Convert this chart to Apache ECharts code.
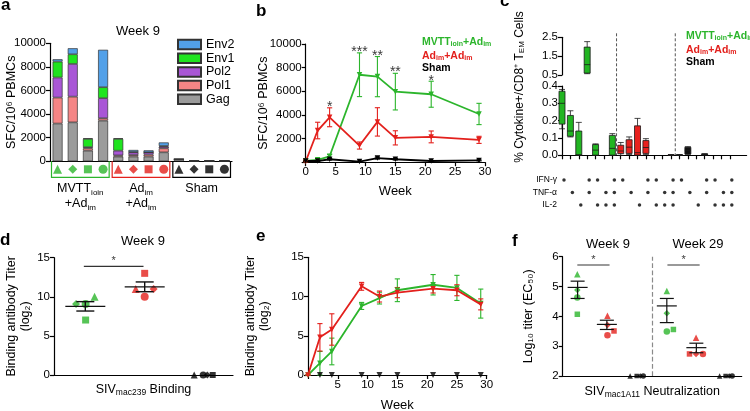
<!DOCTYPE html>
<html><head><meta charset="utf-8">
<script src="https://cdn.jsdelivr.net/npm/echarts@6/dist/echarts.min.js"></script>
<style>html,body{margin:0;padding:0;background:#fff}#c{width:750px;height:411px}</style>
</head><body><div id="c"></div><script>
// ---------------- DATA ----------------
// Panel a (Week 9 stacked SFC per animal)
const aCategories = ['M-tri','M-dia','M-sq','M-cir','A-tri','A-dia','A-sq','A-cir','S-tri','S-dia','S-sq','S-cir'];
const aGag  = [3200, 3300, 900, 3450, 400, 400, 400, 760, 170, 30, 20, 40];
const aPol1 = [2200, 2180, 200,  200, 100, 130, 170, 340,   0,  0,  0,  0];
const aPol2 = [1700, 2770, 100, 1700, 400, 230, 190, 140,   0,  0,  0,  0];
const aEnv1 = [1350,  820, 700,  930,1000,  30,   0,  60,   0,  0,  0,  0];
const aEnv2 = [ 200,  510,  50, 3170,  50, 170, 170, 300,   0,  0,  0,  0];
const aShapes = ['triangle','diamond','rect','circle','triangle','diamond','rect','circle','triangle','diamond','rect','circle'];
const aShapeGroup = [0,0,0,0,1,1,1,1,2,2,2,2];
const aGroupRanges = [[0,3],[4,7],[8,11]];

// Panel b (SFC over weeks)
const bWeeks = [0, 2, 4, 9, 12, 15, 21, 29];
const bMVTT    = [100, 200, 500, 7400, 7240, 5970, 5750, 4080];
const bMVTTsem = [ 50, 100, 150, 1850, 1700, 1550, 1100,  900];
const bAd      = [ 60, 2680, 3800, 1410, 3410, 2060, 2140, 1890];
const bAdSem   = [ 30,  700,  800,  300, 1200,  600,  500,  300];
const bSham    = [100, 100, 250,  50, 350, 250, 100, 150];
const bShamSem = [ 20,  40,  60,  30,  80,  60,  40,  40];
const bStarWeeks = [4, 9, 12, 15, 21];
const bStarY     = [4700, 9300, 9000, 7600, 6900];
const bStarText  = ['*', '***', '**', '**', '*'];

// Panel c (cytokine combos, box plots)
const cCats = ['1','2','3','4','5','6','7','8','9','10','11','12','13','14','15','16','17','18','19','20','21','',''];
// [column, min, Q1, median, Q3, max]
const cLowerBoxes = [
  [0, 0.153, 0.18, 0.30, 0.37, 0.38],
  [1, 0.106, 0.11, 0.14, 0.23, 0.257],
  [2, 0, 0, 0.003, 0.14, 0.19],
  [4, 0, 0, 0.03, 0.062, 0.066],
  [6, 0, 0, 0.04, 0.115, 0.125],
  [7, 0, 0.01, 0.025, 0.058, 0.074],
  [8, 0.005, 0.011, 0.047, 0.09, 0.106],
  [9, 0, 0, 0.015, 0.17, 0.213],
  [10, 0.005, 0.011, 0.045, 0.085, 0.096],
  [13, 0, 0, 0.002, 0.003, 0.004],
  [14, 0, 0, 0.002, 0.003, 0.004],
  [15, 0.005, 0.008, 0.029, 0.046, 0.05],
  [17, 0, 0.003, 0.006, 0.008, 0.009]
];
const cUpperBoxes = [
  [3, 0.57, 0.6, 1.05, 1.98, 2.27]
];
const cRows = ['IL-2', 'TNF-α', 'IFN-γ'];
const cIFN = [1,0,0,1,1,0,1, 1,0,0,1,1,0,1, 1,0,0,1,1,0,1];
const cTNF = [0,1,0,1,0,1,1, 0,1,0,1,0,1,1, 0,1,0,1,0,1,1];
const cIL2 = [0,0,1,0,1,1,1, 0,0,1,0,1,1,1, 0,0,1,0,1,1,1];
const cDividers = [6.5, 13.5];

// Panel d (binding titer week 9)
const dShapes = ['triangle','diamond','rect','circle'];
const dGreenX = [0.68, 0.37, 0.53, 0.53], dGreenY = [10.0, 9.08, 7.03, 9.08];
const dRedX   = [1.37, 1.67, 1.52, 1.52], dRedY   = [11.0, 11.0, 13.0, 10.0];
const dShamX  = [2.35, 2.57, 2.66, 2.50], dShamY  = [0, 0, 0, 0];
const dMeanX = [0.525, 1.52], dMean = [8.77, 11.27], dSemLo = [8.18, 10.65], dSemHi = [9.38, 11.9];
const dSigX = [0.5, 1.5], dSigY = 13.9, dStarY = 14.6;

// Panel e (binding titer over weeks)
const eWeeks = [0, 2, 4, 9, 12, 15, 21, 25, 29];
const eMVTT    = [0, 1.5, 3.0, 8.8, 9.8, 10.8, 11.5, 11.1, 9.1];
const eMVTTsem = [0, 1.5, 1.7, 0.45, 0.75, 1.45, 1.3, 1.6, 1.85];
const eAd      = [0, 4.8, 5.8, 11.3, 10.0, 10.5, 11.0, 10.8, 9.0];
const eAdSem   = [0, 1.75, 2.0, 0.5, 0.7, 0.65, 0.55, 0.7, 0.7];
const eShamWeeks = [2, 4, 9, 12, 15, 21, 25, 29];
const eSham      = [0, 0, 0, 0, 0, 0, 0, 0];

// Panel f (neutralization)
const fShapes = ['triangle','diamond','circle','rect'];
const fGreenX = [0.49, 0.49, 0.49, 0.49, 3.49, 3.49, 3.49, 3.71];
const fGreenY = [5.41, 4.88, 4.63, 4.07, 4.85, 4.10, 3.49, 3.56];
const fRedX   = [1.50, 1.50, 1.50, 1.72, 4.47, 4.47, 4.70, 4.25];
const fRedY   = [4.02, 3.71, 3.37, 3.51, 3.28, 2.74, 2.74, 2.74];
const fShamX  = [2.26, 2.60, 2.70, 2.48, 5.26, 5.58, 5.68, 5.46];
const fShamY  = [2, 2, 2, 2, 2, 2, 2, 2];
const fMeanX = [0.50, 1.48, 3.49, 4.48];
const fMean  = [4.97, 3.73, 4.35, 2.95];
const fSemLo = [4.60, 3.56, 3.79, 2.78];
const fSemHi = [5.18, 3.87, 4.60, 3.10];
const fSigX = [[0.49, 1.57], [3.51, 4.59]], fSigY = 5.72, fStarY = 5.88;
const fDivider = 3;

// ---------------- STYLE ----------------
const F = '"Liberation Sans", Arial, Helvetica, sans-serif';
const GREEN = '#2cb52c', RED = '#e3201c', BLACK = '#000000';
const groupColors = [GREEN, RED, BLACK];
const aColors = {Gag:'#9b9b9b', Pol1:'#f58585', Pol2:'#a956d6', Env1:'#1fe41f', Env2:'#52a0e8'};
const aValues = {Gag:aGag, Pol1:aPol1, Pol2:aPol2, Env1:aEnv1, Env2:aEnv2};

function merge(a, b) {
  const out = Array.isArray(a) ? a.slice() : Object.assign({}, a);
  for (const k in b) {
    if (b[k] && typeof b[k] === 'object' && !Array.isArray(b[k]) && typeof b[k] !== 'function' && a && a[k] && typeof a[k] === 'object') out[k] = merge(a[k], b[k]);
    else out[k] = b[k];
  }
  return out;
}
const baseAxis = {
  nameMoveOverlap: false,
  axisLine: {show: true, lineStyle: {color: '#000', width: 1.2}},
  axisTick: {show: true, inside: false, length: 4, lineStyle: {color: '#000', width: 1.2}},
  axisLabel: {show: true, color: '#000', fontSize: 11.5, fontFamily: F, margin: 4},
  splitLine: {show: false},
  nameTextStyle: {color: '#000', fontFamily: F, fontSize: 12.5}
};
const ax = o => merge(baseAxis, o);

const grids = [
  {left: 50, top: 43.3, width: 182, height: 118},          // 0 a bars
  {left: 50, top: 161.3, width: 182, height: 16},          // 1 a markers
  {left: 305.7, top: 44, width: 179.3, height: 118.2},     // 2 b
  {left: 562, top: 37.3, width: 184.6, height: 37.7},      // 3 c upper
  {left: 562, top: 86, width: 184.6, height: 69.3},        // 4 c lower
  {left: 564, top: 173.75, width: 184.6, height: 37.5},    // 5 c dots
  {left: 54, top: 257.7, width: 179, height: 117.3},       // 6 d
  {left: 308, top: 257.3, width: 178.7, height: 117.7},    // 7 e
  {left: 562.7, top: 256.7, width: 179, height: 119.3}     // 8 f
].map(g => Object.assign({outerBoundsMode: 'none', containLabel: false, show: false}, g));

const subName = {n: {fontSize: 12.5, fontFamily: F, color: '#000', lineHeight: 14}, s: {fontSize: 8.5, fontFamily: F, color: '#000', lineHeight: 6, verticalAlign: 'bottom'}};
const xAxis = [
  ax({gridIndex: 0, type: 'category', data: aCategories, axisTick: {show: false}, axisLabel: {show: false}}),
  {gridIndex: 1, type: 'category', data: aCategories, show: false},
  ax({gridIndex: 1, type: 'category', data: ['MVTT', 'Ad', 'Sham'], position: 'bottom', axisLine: {show: false}, axisTick: {show: false},
      axisLabel: {margin: 4, interval: 0, hideOverlap: false, lineHeight: 15,
        formatter: v => v === 'MVTT' ? '{n|MVTT}{s|ioin}\n{n|+Ad}{s|im}' : v === 'Ad' ? '{n|Ad}{s|im}\n{n|+Ad}{s|im}' : '{n|Sham}',
        rich: {n: {fontSize: 12.5, fontFamily: F, color: '#000', lineHeight: 15}, s: {fontSize: 8, fontFamily: F, color: '#000', lineHeight: 6, verticalAlign: 'bottom'}}}}),
  ax({gridIndex: 2, type: 'value', min: 0, max: 30, interval: 5, name: 'Week', nameLocation: 'middle', nameGap: 23, nameTextStyle: {fontSize: 13}}),
  {gridIndex: 3, type: 'category', data: cCats, boundaryGap: false, show: false},
  ax({gridIndex: 4, type: 'category', data: cCats, boundaryGap: false, axisLabel: {show: false}, axisTick: {interval: (i) => i < 21}}),
  {gridIndex: 5, type: 'category', data: cCats, boundaryGap: false, show: false},
  ax({gridIndex: 6, type: 'value', min: 0, max: 3, axisTick: {show: false}, axisLabel: {show: false},
      name: '{n|SIV}{s|mac239}{n| Binding}', nameLocation: 'middle', nameGap: 8, nameTextStyle: {rich: subName}}),
  ax({gridIndex: 7, type: 'value', min: 0, max: 30, interval: 5, axisLabel: {formatter: v => v === 0 ? '' : String(v)},
      name: 'Week', nameLocation: 'middle', nameGap: 24, nameTextStyle: {fontSize: 13}}),
  ax({gridIndex: 8, type: 'value', min: 0, max: 6, axisTick: {show: false}, axisLabel: {show: false},
      name: '{n|SIV}{s|mac1A11}{n| Neutralization}', nameLocation: 'middle', nameGap: 9, nameTextStyle: {rich: subName}}),
  {gridIndex: 4, type: 'value', min: 0, max: 22, show: false}
];

const yAxis = [
  ax({gridIndex: 0, type: 'value', min: 0, max: 10000, interval: 2000, axisLabel: {formatter: v => String(v)},
      name: 'SFC/10⁶ PBMCs', nameLocation: 'middle', nameGap: 32}),
  {gridIndex: 1, type: 'value', min: -1, max: 1, show: false},
  ax({gridIndex: 2, type: 'value', min: 0, max: 10000, interval: 2000, axisLabel: {formatter: v => v === 0 ? '' : String(v)},
      name: 'SFC/10⁶ PBMCs', nameLocation: 'middle', nameGap: 36}),
  ax({gridIndex: 3, type: 'value', min: 0.5, max: 2.5, interval: 1, axisLabel: {formatter: v => v.toFixed(1)}}),
  ax({gridIndex: 4, type: 'value', min: 0, max: 0.4, interval: 0.1, axisLabel: {formatter: v => v.toFixed(1)}}),
  ax({gridIndex: 5, type: 'category', data: cRows, axisLine: {show: false}, axisTick: {show: false}, axisLabel: {fontSize: 8.5, margin: 7}}),
  ax({gridIndex: 6, type: 'value', min: 0, max: 15, interval: 5, name: 'Binding antibody Titer\n(log₂)', nameLocation: 'middle', nameGap: 21,
      nameTextStyle: {lineHeight: 14}}),
  ax({gridIndex: 7, type: 'value', min: 0, max: 15, interval: 5, name: 'Binding antibody Titer\n(log₂)', nameLocation: 'middle', nameGap: 36,
      nameTextStyle: {lineHeight: 14}}),
  ax({gridIndex: 8, type: 'value', min: 2, max: 6, interval: 1, name: 'Log₁₀ titer (EC₅₀)', nameLocation: 'middle', nameGap: 28})
];

// ---------- render helpers ----------
function errBarRender(cap) {
  return function (params, api) {
    const x = api.value(0), lo = api.value(1), hi = api.value(2);
    const p1 = api.coord([x, lo]), p2 = api.coord([x, hi]);
    const st = {stroke: api.visual('color'), lineWidth: 1.1};
    return {type: 'group', children: [
      {type: 'line', shape: {x1: p1[0], y1: p1[1], x2: p2[0], y2: p2[1]}, style: st},
      {type: 'line', shape: {x1: p1[0] - cap, y1: p1[1], x2: p1[0] + cap, y2: p1[1]}, style: st},
      {type: 'line', shape: {x1: p2[0] - cap, y1: p2[1], x2: p2[0] + cap, y2: p2[1]}, style: st}
    ]};
  };
}
function meanSemRender(halfW, capW, lw) {
  return function (params, api) {
    const x = api.value(0), m = api.value(1), lo = api.value(2), hi = api.value(3);
    const pm = api.coord([x, m]), pl = api.coord([x, lo]), ph = api.coord([x, hi]);
    const st = {stroke: '#111', lineWidth: lw};
    return {type: 'group', children: [
      {type: 'line', shape: {x1: pm[0] - halfW, y1: pm[1], x2: pm[0] + halfW, y2: pm[1]}, style: st},
      {type: 'line', shape: {x1: pl[0], y1: pl[1], x2: ph[0], y2: ph[1]}, style: st},
      {type: 'line', shape: {x1: pl[0] - capW, y1: pl[1], x2: pl[0] + capW, y2: pl[1]}, style: st},
      {type: 'line', shape: {x1: ph[0] - capW, y1: ph[1], x2: ph[0] + capW, y2: ph[1]}, style: st}
    ]};
  };
}
const zip = (xs, ys) => xs.map((x, i) => [x, ys[i]]);
const errData = (xs, m, s) => xs.map((x, i) => [x, m[i] - s[i], m[i] + s[i]]);
function timeLine(name, xi, yi, xs, ys, color) {
  return {type: 'line', name: name, xAxisIndex: xi, yAxisIndex: yi, data: zip(xs, ys), symbol: 'triangle', symbolRotate: 180, symbolSize: 5.5,
    lineStyle: {color: color, width: 1.8}, itemStyle: {color: color}, z: 4, animation: false};
}
function errSeries(xi, yi, xs, m, s, color) {
  return {type: 'custom', xAxisIndex: xi, yAxisIndex: yi, data: errData(xs, m, s), renderItem: errBarRender(2.6), itemStyle: {color: color}, z: 3, animation: false};
}
function shapeScatter(xi, yi, xs, ys, shapes, color, size) {
  return {type: 'scatter', xAxisIndex: xi, yAxisIndex: yi, z: 5, animation: false,
    data: xs.map((x, i) => ({value: [x, ys[i]], symbol: shapes[i % shapes.length], symbolSize: shapes[i % shapes.length] === 'rect' ? size - 1 : size})),
    itemStyle: {color: color}};
}
function starSeries(xi, yi, xs, ys, texts, size) {
  return {type: 'scatter', xAxisIndex: xi, yAxisIndex: yi, symbolSize: 1, itemStyle: {color: 'rgba(0,0,0,0)'}, z: 6, animation: false,
    data: zip(xs, ys), label: {show: true, position: 'inside', formatter: p => texts[p.dataIndex], color: '#000', fontSize: size, fontFamily: F}};
}

const series = [];
// ---- a ----
['Gag', 'Pol1', 'Pol2', 'Env1', 'Env2'].forEach(n => series.push({
  type: 'bar', name: n, xAxisIndex: 0, yAxisIndex: 0, stack: 'a', barWidth: 10, data: aValues[n], animation: false,
  itemStyle: {color: aColors[n], borderColor: '#333', borderWidth: 0.7}
}));
series.push({type: 'scatter', xAxisIndex: 1, yAxisIndex: 1, animation: false,
  data: aCategories.map((c, i) => ({value: [i, 0], symbol: aShapes[i], symbolSize: aShapes[i] === 'rect' ? 8 : 9, itemStyle: {color: groupColors[aShapeGroup[i]]}}))});
series.push({type: 'custom', xAxisIndex: 1, yAxisIndex: 1, animation: false,
  data: aGroupRanges.map((r, i) => ({value: r, itemStyle: {color: groupColors[i]}})),
  renderItem: function (params, api) {
    const s = api.value(0), e = api.value(1);
    const bw = api.size([1, 0])[0];
    const x0 = api.coord([s, 0])[0] - bw / 2 + 1.5, x1 = api.coord([e, 0])[0] + bw / 2 - 1.5;
    const cs = params.coordSys;
    return {type: 'polyline', shape: {points: [[x0, cs.y], [x0, cs.y + cs.height], [x1, cs.y + cs.height], [x1, cs.y]]},
      style: {stroke: api.visual('color'), fill: null, lineWidth: 1.2}};
  }});

// ---- b ----
series.push(errSeries(3, 2, bWeeks, bMVTT, bMVTTsem, GREEN));
series.push(errSeries(3, 2, bWeeks, bAd, bAdSem, RED));
series.push(errSeries(3, 2, bWeeks, bSham, bShamSem, BLACK));
series.push(timeLine('bMVTT', 3, 2, bWeeks, bMVTT, GREEN));
series.push(timeLine('bAd', 3, 2, bWeeks, bAd, RED));
series.push(timeLine('bSham', 3, 2, bWeeks, bSham, BLACK));
series.push(starSeries(3, 2, bStarWeeks, bStarY, bStarText, 14));

// ---- c ----
const boxColor = col => col <= 6 ? '#22b522' : col <= 13 ? '#e8211e' : '#111';
series.push({type: 'boxplot', xAxisIndex: 5, yAxisIndex: 4, boxWidth: [6, 6], animation: false, encode: {x: 0, y: [1, 2, 3, 4, 5]},
  data: cLowerBoxes.map(b => ({value: b, itemStyle: {color: boxColor(b[0])}})),
  itemStyle: {borderColor: '#1a1a1a', borderWidth: 0.8}});
series.push({type: 'boxplot', xAxisIndex: 4, yAxisIndex: 3, boxWidth: [6, 6], animation: false, encode: {x: 0, y: [1, 2, 3, 4, 5]},
  data: cUpperBoxes.map(b => ({value: b, itemStyle: {color: boxColor(b[0])}})),
  itemStyle: {borderColor: '#1a1a1a', borderWidth: 0.8}});
const dots = [];
cIFN.forEach((v, i) => { if (v) dots.push([i, 2]); });
cTNF.forEach((v, i) => { if (v) dots.push([i, 1]); });
cIL2.forEach((v, i) => { if (v) dots.push([i, 0]); });
series.push({type: 'scatter', xAxisIndex: 6, yAxisIndex: 5, symbolSize: 3.5, itemStyle: {color: '#000'}, data: dots, animation: false});

// ---- d ----
series.push(shapeScatter(7, 6, dGreenX, dGreenY, dShapes, GREEN, 8));
series.push(shapeScatter(7, 6, dRedX, dRedY, dShapes, RED, 8));
series.push(shapeScatter(7, 6, dShamX, dShamY, dShapes, BLACK, 7));
series.push({type: 'custom', xAxisIndex: 7, yAxisIndex: 6, z: 6, animation: false,
  data: dMeanX.map((x, i) => [x, dMean[i], dSemLo[i], dSemHi[i]]), renderItem: meanSemRender(20, 9, 1.4)});
series.push({type: 'line', xAxisIndex: 7, yAxisIndex: 6, data: dSigX.map(x => [x, dSigY]), symbol: 'none', lineStyle: {color: '#333', width: 1.2}, animation: false});
series.push(starSeries(7, 6, [(dSigX[0] + dSigX[1]) / 2], [dStarY], ['*'], 11));

// ---- e ----
series.push(errSeries(8, 7, eWeeks, eMVTT, eMVTTsem, GREEN));
series.push(errSeries(8, 7, eWeeks, eAd, eAdSem, RED));
series.push(timeLine('eMVTT', 8, 7, eWeeks, eMVTT, GREEN));
series.push(timeLine('eAd', 8, 7, eWeeks, eAd, RED));
series.push({type: 'scatter', xAxisIndex: 8, yAxisIndex: 7, symbol: 'triangle', symbolRotate: 180, symbolSize: 6, itemStyle: {color: '#000'}, z: 6,
  data: zip(eShamWeeks, eSham), animation: false});

// ---- f ----
const fg = shapeScatter(9, 8, fGreenX, fGreenY, fShapes, GREEN, 6.5);
fg.markLine = {symbol: 'none', silent: true, animation: false, label: {show: false}, lineStyle: {type: 'dashed', color: '#8a8a8a', width: 1.2}, data: [{xAxis: fDivider}]};
series.push(fg);
series.push(shapeScatter(9, 8, fRedX, fRedY, fShapes, RED, 6.5));
series.push(shapeScatter(9, 8, fShamX, fShamY, fShapes, BLACK, 5.5));
series.push({type: 'custom', xAxisIndex: 9, yAxisIndex: 8, z: 6, animation: false,
  data: fMeanX.map((x, i) => [x, fMean[i], fSemLo[i], fSemHi[i]]), renderItem: meanSemRender(10, 7, 1.2)});
fSigX.forEach(pair => series.push({type: 'line', xAxisIndex: 9, yAxisIndex: 8, data: pair.map(x => [x, fSigY]), symbol: 'none', lineStyle: {color: '#777', width: 1.5}, animation: false}));
series.push(starSeries(9, 8, fSigX.map(p => (p[0] + p[1]) / 2), [fStarY, fStarY], ['*', '*'], 11));

// ---------------- TEXT ----------------
const T = (x, y, text, size, opts) => Object.assign({type: 'text', x: x, y: y, silent: true,
  style: Object.assign({text: text, fontSize: size, fontFamily: F, fill: '#000', align: 'left', verticalAlign: 'middle'}, (opts && opts.style) || {})},
  opts && opts.rotation ? {rotation: opts.rotation} : {});
const richB = (c) => ({n: {fill: c, fontSize: 10.5, fontFamily: F, fontWeight: 'bold'}, s: {fill: c, fontSize: 7, fontFamily: F, fontWeight: 'bold', lineHeight: 5, verticalAlign: 'bottom'}});
const legendText = (x, y, text, c) => T(x, y, text, 10.5, {style: {rich: richB(c), fontWeight: 'bold'}});

const graphics = [
  T(1, 5, 'a', 17, {style: {fontWeight: 'bold'}}),
  T(256, 11, 'b', 17, {style: {fontWeight: 'bold'}}),
  T(500, 1, 'c', 17, {style: {fontWeight: 'bold'}}),
  T(0, 240, 'd', 17, {style: {fontWeight: 'bold'}}),
  T(256, 236, 'e', 17, {style: {fontWeight: 'bold'}}),
  T(512, 241, 'f', 17, {style: {fontWeight: 'bold'}}),
  T(138, 31, 'Week 9', 13, {style: {align: 'center'}}),
  T(143, 241, 'Week 9', 13, {style: {align: 'center'}}),
  T(608, 244, 'Week 9', 13, {style: {align: 'center'}}),
  T(698, 244, 'Week 29', 13, {style: {align: 'center'}}),
  legendText(422, 42, '{n|MVTT}{s|ioin}{n|+Ad}{s|im}', GREEN),
  legendText(422, 56, '{n|Ad}{s|im}{n|+Ad}{s|im}', RED),
  legendText(422, 68, '{n|Sham}', '#000'),
  legendText(686, 36, '{n|MVTT}{s|ioin}{n|+Ad}{s|im}', GREEN),
  legendText(686, 50.5, '{n|Ad}{s|im}{n|+Ad}{s|im}', RED),
  legendText(686, 62, '{n|Sham}', '#000'),
  T(520, 87, '{n|% Cytokine+/CD8⁺ T}{s|EM}{n| Cells}', 12, {rotation: Math.PI / 2,
    style: {align: 'center', rich: {n: {fontSize: 12, fontFamily: F, fill: '#000'}, s: {fontSize: 8, fontFamily: F, fill: '#000', lineHeight: 5, verticalAlign: 'bottom'}}}})
];

const chart = echarts.init(document.getElementById('c'), null, {renderer: 'canvas', width: 750, height: 411});
chart.setOption({
  animation: false,
  backgroundColor: '#fff',
  textStyle: {fontFamily: F},
  grid: grids,
  xAxis: xAxis,
  yAxis: yAxis,
  legend: {data: ['Env2', 'Env1', 'Pol2', 'Pol1', 'Gag'], orient: 'vertical', left: 172, top: 33, padding: 5, icon: 'rect',
    itemWidth: 23, itemHeight: 9.5, itemGap: 0.7, selectedMode: false,
    textStyle: {fontSize: 12.5, fontFamily: F, color: '#000'}},
  tooltip: {show: false},
  series: series,
  graphic: graphics
});
// dashed dividers in panel c, positioned through the chart's own axes
const topY = chart.convertToPixel({yAxisIndex: 3}, 2.5) - 4;
const botY = chart.convertToPixel({yAxisIndex: 4}, 0);
const divs = cDividers.map(v => {
  const x = chart.convertToPixel({xAxisIndex: 10}, v);
  return {type: 'line', silent: true, shape: {x1: x, y1: topY, x2: x, y2: botY}, style: {stroke: '#555', lineWidth: 1, lineDash: [3, 2]}};
});
chart.setOption({graphic: graphics.concat(divs)});
</script></body></html>
